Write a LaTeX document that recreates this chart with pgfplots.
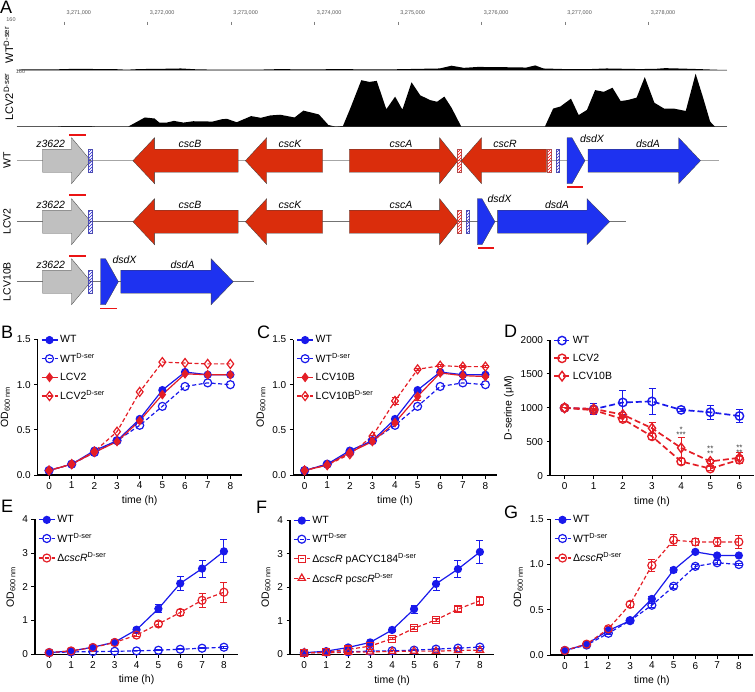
\documentclass[border=0pt]{standalone}
\usepackage{fontspec}
\setmainfont{Liberation Sans}
\usepackage{pgfplots}
\pgfplotsset{compat=1.18}
\usetikzlibrary{patterns}
\definecolor{pblue}{RGB}{25,25,235}
\definecolor{pred}{RGB}{228,30,38}
\definecolor{genered}{RGB}{218,45,12}
\definecolor{geneblue}{RGB}{30,50,240}
\definecolor{genegray}{RGB}{192,192,192}
\definecolor{ulred}{RGB}{235,20,20}
\pgfplotsset{
  gp/.style={
    scale only axis, anchor=south west,
    height=135.5pt,
    axis x line*=bottom, axis y line*=left,
    axis line style={line width=1.2pt, black},
    tick align=outside, major tick length=3.5pt,
    tick style={black, line width=1pt},
    xtick={0,...,8},
    xlabel={time (h)}, ylabel={OD\textsubscript{600 nm}},
    tick label style={font=\fontsize{10}{12}\selectfont},
    label style={font=\fontsize{10.5}{12}\selectfont},
    /pgf/number format/assume math mode=true,
    yticklabel style={/pgf/number format/.cd, fixed, fixed zerofill, precision=1, 1000 sep={}},
    clip=false,
    legend cell align=left,
    legend style={at={(0,1)}, anchor=north west, draw=none, fill=none,
      font=\fontsize{10.5}{12}\selectfont, row sep=5pt, inner sep=0pt, xshift=3pt, yshift=6pt},
    legend image code/.code={\draw[mark repeat=2,mark phase=2,##1] plot coordinates {(0pt,0pt)(8pt,0pt)(16pt,0pt)};},
  },
  sWT/.style={pblue, line width=1.2pt, solid, mark=*, mark size=3.5pt, mark options={solid, fill=pblue}},
  sWTD/.style={pblue, line width=1.2pt, dash pattern=on 4pt off 2.5pt, mark=o, mark size=4pt, mark options={solid}},
  sRfd/.style={pred, line width=1.2pt, solid, mark=diamond*, mark size=4pt, mark options={solid, fill=pred}},
  sRod/.style={pred, line width=1.2pt, dash pattern=on 4pt off 2.5pt, mark=diamond, mark size=4.5pt, mark options={solid}},
  sRoc/.style={pred, line width=1.2pt, dash pattern=on 4pt off 2.5pt, mark=o, mark size=4pt, mark options={solid}},
  sRos/.style={pred, line width=1.2pt, dash pattern=on 4pt off 2.5pt, mark=square, mark size=3.5pt, mark options={solid}},
  sRot/.style={pred, line width=1.2pt, dash pattern=on 4pt off 2.5pt, mark=triangle, mark size=4.2pt, mark options={solid}},
  eb/.style={error bars/y dir=both, error bars/y explicit,
    error bars/error bar style={solid, line width=1pt},
    error bars/error mark options={rotate=90, mark size=3.5pt, line width=1pt, solid}},
  gred/.style={fill=genered, draw=gray!50!black, line width=0.3pt},
  gblue/.style={fill=geneblue, draw=gray!50!black, line width=0.3pt},
  ggray/.style={fill=genegray, draw=gray!50!black, line width=0.3pt},
  hblue/.style={pattern=north east lines, pattern color=blue!70!gray, draw=gray!60!blue, line width=0.3pt},
  hred/.style={pattern=north east lines, pattern color=red, draw=gray!60!red, line width=0.3pt},
  ul/.style={draw=ulred, line width=1.6pt},
}
\begin{document}
\begin{tikzpicture}
\useasboundingbox (0pt,0pt) rectangle (755pt,-691pt);

% ---------------- Panel A ----------------
\node[anchor=base west, font=\fontsize{18}{20}\selectfont, inner sep=0pt] at (0pt,-13.5pt) {A};
% ruler
\begin{axis}[at={(16.9pt,-25pt)}, anchor=north west, scale only axis, width=710.1pt, height=1pt,
  xmin=0.436, xmax=8.943, ymin=0, ymax=1, axis x line*=top, axis line style={draw=none}, hide y axis,
  tick align=outside, major tick length=3.5pt, tick style={gray, line width=0.5pt},
  xtick={1,...,8},
  xticklabels={{3,271,000},{3,272,000},{3,273,000},{3,274,000},{3,275,000},{3,276,000},{3,277,000},{3,278,000}},
  xticklabel style={font=\fontsize{5.5}{6}\selectfont, text=gray!70!black, anchor=south west, xshift=-1pt, yshift=3pt}]
\addplot[draw=none] coordinates {(1,0)(8,0)};
\end{axis}
% WT D-ser coverage
\begin{axis}[at={(16.9pt,-70pt)}, anchor=south west, scale only axis, width=710.1pt, height=49pt,
  xmin=0.436, xmax=8.943, ymin=0, ymax=160, axis x line*=bottom, hide y axis, xtick=\empty,
  axis line style={gray!60, line width=0.8pt}]
\addplot[fill=black, draw=none] coordinates {(0.436,0)(0.5,2)(0.9,2)(1.0,3)(1.2,4)(1.4,3)(1.6,3)(1.75,1)(1.9,3)(2.2,4)(2.4,5)(2.6,2)(2.9,1)(3.3,1)(3.6,3)(3.8,2)(4.0,2)(4.3,3)(4.6,2)(4.9,2)(5.1,3)(5.3,4)(5.5,5)(5.644,14)(5.79,7)(5.96,10)(6.31,9)(6.54,8)(6.645,15)(6.744,5)(7.0,3)(7.3,3)(7.5,5)(7.7,4)(7.9,3)(8.1,4)(8.2,6)(8.35,5)(8.6,3)(8.8,1)(8.943,0)} -- cycle;
\end{axis}
% LCV2 D-ser coverage
\begin{axis}[at={(16.9pt,-126.7pt)}, anchor=south west, scale only axis, width=710.1pt, height=54.7pt,
  xmin=0.436, xmax=8.943, ymin=0, ymax=160, axis x line*=bottom, hide y axis, xtick=\empty,
  axis line style={gray!80!black, line width=0.8pt}]
\addplot[fill=black, draw=none] coordinates {(0.436,0)(0.9,0)(1.0,2)(1.3,2)(1.4,0)(1.767,0)(1.969,27)(2.085,24)(2.143,12)(2.230,12)(2.317,17)(2.432,12)(2.548,16)(2.780,15)(2.895,22)(2.953,23)(3.069,13)(3.242,31)(3.358,26)(3.474,33)(3.590,35)(3.763,27)(3.868,47)(4.053,36)(4.168,5)(4.255,0)(4.342,2)(4.429,53)(4.562,136)(4.660,131)(4.747,134)(4.862,51)(4.967,88)(5.054,50)(5.164,130)(5.268,92)(5.383,78)(5.470,73)(5.557,88)(5.644,55)(5.760,0)(6.761,0)(6.860,53)(6.947,59)(7.074,82)(7.166,34)(7.265,49)(7.363,107)(7.467,102)(7.571,114)(7.669,75)(7.755,78)(7.860,85)(7.958,145)(8.073,70)(8.189,53)(8.305,53)(8.449,46)(8.567,155)(8.654,87)(8.741,15)(8.799,0)(8.943,0)} -- cycle;
\end{axis}
\node[font=\fontsize{5.5}{6}\selectfont, text=gray!70!black] at (11pt,-20pt) {160};
\node[font=\fontsize{5.5}{6}\selectfont, text=gray!70!black] at (20.5pt,-72pt) {160};
\node[rotate=90, font=\fontsize{11}{12}\selectfont] at (8.5pt,-45pt) {WT\textsuperscript{D-ser}};
\node[rotate=90, font=\fontsize{11}{12}\selectfont] at (8.5pt,-97pt) {LCV2\textsuperscript{D-ser}};
\node[rotate=90, font=\fontsize{10.5}{12}\selectfont] at (7pt,-160.7pt) {WT};
\node[rotate=90, font=\fontsize{10.5}{12}\selectfont] at (7pt,-221.7pt) {LCV2};
\node[rotate=90, font=\fontsize{10.5}{12}\selectfont] at (7pt,-281.7pt) {LCV10B};

% gene maps
\begin{axis}[at={(0pt,-315pt)}, anchor=south west, scale only axis, width=755pt, height=185pt,
  xmin=0, xmax=755, ymin=130, ymax=315, y dir=reverse, hide axis, clip=false]
\addplot[gray!70, line width=0.8pt] coordinates {(16.9,160.7)(718.8,160.7)};
\addplot[gray!90!black, line width=0.8pt] coordinates {(16.9,221.7)(625.6,221.7)};
\addplot[gray!90!black, line width=0.8pt] coordinates {(16.9,281.7)(253.6,281.7)};
% WT row
\addplot[ggray] coordinates {(42.5,149.2)(71.5,149.2)(71.5,137.7)(90.8,160.7)(71.5,183.7)(71.5,172.2)(42.5,172.2)} -- cycle;
\addplot[hblue] coordinates {(88.4,149.2)(91.8,149.2)(91.8,172.2)(88.4,172.2)} -- cycle;
\addplot[gred] coordinates {(238.2,149.2)(154.6,149.2)(154.6,137.7)(132.9,160.7)(154.6,183.7)(154.6,172.2)(238.2,172.2)} -- cycle;
\addplot[gred] coordinates {(322.7,149.2)(266.7,149.2)(266.7,137.7)(245.4,160.7)(266.7,183.7)(266.7,172.2)(322.7,172.2)} -- cycle;
\addplot[gred] coordinates {(349.3,149.2)(439.6,149.2)(439.6,137.7)(458,160.7)(439.6,183.7)(439.6,172.2)(349.3,172.2)} -- cycle;
\addplot[hred] coordinates {(457,149.2)(461.3,149.2)(461.3,172.2)(457,172.2)} -- cycle;
\addplot[gred] coordinates {(546.5,149.2)(481.5,149.2)(481.5,137.7)(461.3,160.7)(481.5,183.7)(481.5,172.2)(546.5,172.2)} -- cycle;
\addplot[hred] coordinates {(547,149.2)(551,149.2)(551,172.2)(547,172.2)} -- cycle;
\addplot[hblue] coordinates {(556,149.2)(559.5,149.2)(559.5,172.2)(556,172.2)} -- cycle;
\addplot[gblue] coordinates {(567,137.7)(572,137.7)(585,160.7)(572,183.7)(567,183.7)} -- cycle;
\addplot[gblue] coordinates {(588,149.2)(678.7,149.2)(678.7,137.7)(700.5,160.7)(678.7,183.7)(678.7,172.2)(588,172.2)} -- cycle;
\addplot[ul] coordinates {(69,135)(86,135)};
\addplot[ul] coordinates {(567,187)(583,187)};
% LCV2 row
\addplot[ggray] coordinates {(42.5,210.2)(71.5,210.2)(71.5,198.7)(90.8,221.7)(71.5,244.7)(71.5,233.2)(42.5,233.2)} -- cycle;
\addplot[hblue] coordinates {(88.4,210.2)(91.8,210.2)(91.8,233.2)(88.4,233.2)} -- cycle;
\addplot[gred] coordinates {(238.2,210.2)(154.6,210.2)(154.6,198.7)(132.9,221.7)(154.6,244.7)(154.6,233.2)(238.2,233.2)} -- cycle;
\addplot[gred] coordinates {(322.7,210.2)(266.7,210.2)(266.7,198.7)(245.4,221.7)(266.7,244.7)(266.7,233.2)(322.7,233.2)} -- cycle;
\addplot[gred] coordinates {(349.3,210.2)(439.6,210.2)(439.6,198.7)(458,221.7)(439.6,244.7)(439.6,233.2)(349.3,233.2)} -- cycle;
\addplot[hred] coordinates {(457,210.2)(461.3,210.2)(461.3,233.2)(457,233.2)} -- cycle;
\addplot[hblue] coordinates {(466.2,210.2)(469.6,210.2)(469.6,233.2)(466.2,233.2)} -- cycle;
\addplot[gblue] coordinates {(477.3,198.7)(482,198.7)(495,221.7)(482,244.7)(477.3,244.7)} -- cycle;
\addplot[gblue] coordinates {(497.6,210.2)(587,210.2)(587,198.7)(609.7,221.7)(587,244.7)(587,233.2)(497.6,233.2)} -- cycle;
\addplot[ul] coordinates {(69,195)(86,195)};
\addplot[ul] coordinates {(478.3,248)(493.7,248)};
% LCV10B row
\addplot[ggray] coordinates {(42.5,270.2)(71.5,270.2)(71.5,258.7)(90.8,281.7)(71.5,304.7)(71.5,293.2)(42.5,293.2)} -- cycle;
\addplot[hblue] coordinates {(88.4,270.2)(91.8,270.2)(91.8,293.2)(88.4,293.2)} -- cycle;
\addplot[gblue] coordinates {(100.5,258.7)(105.5,258.7)(118.4,281.7)(105.5,304.7)(100.5,304.7)} -- cycle;
\addplot[gblue] coordinates {(120.8,270.2)(211.1,270.2)(211.1,258.7)(233.3,281.7)(211.1,304.7)(211.1,293.2)(120.8,293.2)} -- cycle;
\addplot[ul] coordinates {(69,256)(86,256)};
\addplot[ul] coordinates {(100,308.5)(117,308.5)};
% gene labels
\begin{scope}[every node/.style={font=\fontsize{10.5}{12}\selectfont\itshape, inner sep=0pt}]
\node at (50.7,144) {z3622};
\node at (190,144) {cscB};
\node at (290,144) {cscK};
\node at (401,144) {cscA};
\node at (505,143.5) {cscR};
\node at (592,139) {dsdX};
\node at (648,144) {dsdA};
\node at (50.7,205) {z3622};
\node at (190,205) {cscB};
\node at (290,205) {cscK};
\node at (401,205) {cscA};
\node at (499.5,199) {dsdX};
\node at (557,205) {dsdA};
\node at (50.7,265) {z3622};
\node at (124.5,260) {dsdX};
\node at (182.6,265) {dsdA};
\end{scope}
\end{axis}

% ---------------- Panel labels ----------------
\begin{scope}[every node/.style={anchor=base west, font=\fontsize{18}{20}\selectfont, inner sep=0pt}]
\node at (1pt,-338pt) {B};
\node at (257pt,-338pt) {C};
\node at (504pt,-337pt) {D};
\node at (1pt,-512pt) {E};
\node at (256pt,-513pt) {F};
\node at (504pt,-518pt) {G};
\end{scope}

% ---------------- Panel B ----------------
\begin{axis}[gp, at={(37.7pt,-475pt)}, width=204pt, xmin=-0.5, xmax=8.5, ymin=0, ymax=1.5, ytick={0,0.5,1,1.5}]
\addplot[sWT] coordinates {(0,0.05)(1,0.12)(2,0.27)(3,0.38)(4,0.62)(5,0.94)(6,1.14)(7,1.11)(8,1.11)};
\addlegendentry{WT}
\addplot[sWTD] coordinates {(0,0.05)(1,0.12)(2,0.25)(3,0.38)(4,0.55)(5,0.76)(6,0.98)(7,1.02)(8,1.00)};
\addlegendentry{WT\textsuperscript{D-ser}}
\addplot[sRfd] coordinates {(0,0.05)(1,0.12)(2,0.25)(3,0.37)(4,0.60)(5,0.89)(6,1.12)(7,1.11)(8,1.11)};
\addlegendentry{LCV2}
\addplot[sRod] coordinates {(0,0.05)(1,0.12)(2,0.26)(3,0.48)(4,0.92)(5,1.25)(6,1.24)(7,1.23)(8,1.23)};
\addlegendentry{LCV2\textsuperscript{D-ser}}
\end{axis}

% ---------------- Panel C ----------------
\begin{axis}[gp, at={(293.3pt,-475pt)}, width=203.4pt, xmin=-0.5, xmax=8.5, ymin=0, ymax=1.5, ytick={0,0.5,1,1.5}]
\addplot[sWT] coordinates {(0,0.05)(1,0.12)(2,0.27)(3,0.38)(4,0.62)(5,0.94)(6,1.14)(7,1.11)(8,1.11)};
\addlegendentry{WT}
\addplot[sWTD] coordinates {(0,0.05)(1,0.12)(2,0.25)(3,0.38)(4,0.55)(5,0.76)(6,0.98)(7,1.02)(8,1.00)};
\addlegendentry{WT\textsuperscript{D-ser}}
\addplot[sRfd, eb] table[row sep=\\, header=false, x index=0, y index=1, y error index=2] {0 0.05 0\\ 1 0.11 0\\ 2 0.25 0\\ 3 0.37 0\\ 4 0.58 0.02\\ 5 0.87 0.04\\ 6 1.13 0.01\\ 7 1.10 0.01\\ 8 1.09 0.01\\};
\addlegendentry{LCV10B}
\addplot[sRod, eb] table[row sep=\\, header=false, x index=0, y index=1, y error index=2] {0 0.05 0\\ 1 0.11 0\\ 2 0.23 0\\ 3 0.43 0.01\\ 4 0.82 0.04\\ 5 1.17 0.01\\ 6 1.21 0.01\\ 7 1.20 0.01\\ 8 1.20 0.01\\};
\addlegendentry{LCV10B\textsuperscript{D-ser}}
\end{axis}

% ---------------- Panel D ----------------
\begin{axis}[gp, at={(550pt,-475.7pt)}, width=204pt, height=135.7pt, xmin=-0.5, xmax=6.5, xtick={0,...,6},
  ymin=0, ymax=2000, ytick={0,500,1000,1500,2000}, ylabel={D-serine (μM)},
  yticklabel style={/pgf/number format/precision=0},
  legend image code/.code={\draw[mark repeat=2,mark phase=2,#1] plot coordinates {(0pt,0pt)(8pt,0pt)(16pt,0pt)};}]
\addplot[pblue, line width=1.7pt, dash pattern=on 6pt off 3pt, mark=o, mark size=4.2pt, mark options={solid, line width=1.4pt}, eb]
  table[row sep=\\, header=false, x index=0, y index=1, y error index=2] {0 1000 0\\ 1 980 80\\ 2 1080 180\\ 3 1095 195\\ 4 970 25\\ 5 935 100\\ 6 880 100\\};
\addlegendentry{WT}
\addplot[pred, line width=1.7pt, dash pattern=on 6pt off 3pt, mark=o, mark size=4.2pt, mark options={solid, line width=1.4pt}, eb]
  table[row sep=\\, header=false, x index=0, y index=1, y error index=2] {0 1000 0\\ 1 965 30\\ 2 835 30\\ 3 580 40\\ 4 210 40\\ 5 105 30\\ 6 235 60\\};
\addlegendentry{LCV2}
\addplot[pred, line width=1.7pt, dash pattern=on 6pt off 3pt, mark=diamond, mark size=4.8pt, mark options={solid, line width=1.4pt}, eb]
  table[row sep=\\, header=false, x index=0, y index=1, y error index=2] {0 1000 0\\ 1 985 30\\ 2 900 30\\ 3 700 80\\ 4 410 150\\ 5 210 30\\ 6 265 80\\};
\addlegendentry{LCV10B}
\begin{scope}[every node/.style={font=\fontsize{8}{9}\selectfont, inner sep=0pt, text=black!75}]
\node at (4,645) {\ooalign{\hfil\raisebox{5pt}{*}\hfil\cr ***\cr}};
\node at (5,366) {\ooalign{\hfil\raisebox{5pt}{**}\hfil\cr **\cr}};
\node at (6,380) {\ooalign{\hfil\raisebox{5pt}{**}\hfil\cr **\cr}};
\end{scope}
\end{axis}

% ---------------- Panel E ----------------
\begin{axis}[gp, at={(35pt,-654.3pt)}, width=203.1pt, height=135pt, xmin=-0.65, xmax=8.65,
  ymin=0, ymax=4, ytick={0,1,2,3,4}, yticklabel style={/pgf/number format/precision=0}]
\addplot[sWT, eb] table[row sep=\\, header=false, x index=0, y index=1, y error index=2] {0 0.05 0\\ 1 0.10 0\\ 2 0.21 0.02\\ 3 0.36 0.03\\ 4 0.73 0.06\\ 5 1.35 0.12\\ 6 2.10 0.20\\ 7 2.54 0.25\\ 8 3.05 0.34\\};
\addlegendentry{WT}
\addplot[sWTD, eb] table[row sep=\\, header=false, x index=0, y index=1, y error index=2] {0 0.05 0\\ 1 0.07 0\\ 2 0.08 0\\ 3 0.09 0\\ 4 0.10 0\\ 5 0.12 0.01\\ 6 0.15 0.02\\ 7 0.18 0.02\\ 8 0.21 0.03\\};
\addlegendentry{WT\textsuperscript{D-ser}}
\addplot[sRoc, eb] table[row sep=\\, header=false, x index=0, y index=1, y error index=2] {0 0.05 0\\ 1 0.10 0\\ 2 0.20 0.01\\ 3 0.35 0.02\\ 4 0.57 0.04\\ 5 0.90 0.07\\ 6 1.24 0.10\\ 7 1.60 0.20\\ 8 1.84 0.30\\};
\addlegendentry{Δ\textit{cscR}\textsuperscript{D-ser}}
\end{axis}

% ---------------- Panel F ----------------
\begin{axis}[gp, at={(290pt,-654.5pt)}, width=204.2pt, height=134.5pt, xmin=-0.65, xmax=8.65,
  ymin=0, ymax=4, ytick={0,1,2,3,4}, yticklabel style={/pgf/number format/precision=0}]
\addplot[sWT, eb] table[row sep=\\, header=false, x index=0, y index=1, y error index=2] {0 0.05 0\\ 1 0.10 0\\ 2 0.21 0.02\\ 3 0.36 0.03\\ 4 0.73 0.06\\ 5 1.35 0.12\\ 6 2.10 0.20\\ 7 2.54 0.25\\ 8 3.05 0.34\\};
\addlegendentry{WT}
\addplot[sWTD, eb] table[row sep=\\, header=false, x index=0, y index=1, y error index=2] {0 0.05 0\\ 1 0.07 0\\ 2 0.08 0\\ 3 0.10 0\\ 4 0.11 0\\ 5 0.13 0.01\\ 6 0.16 0.02\\ 7 0.19 0.02\\ 8 0.22 0.03\\};
\addlegendentry{WT\textsuperscript{D-ser}}
\addplot[sRos, eb] table[row sep=\\, header=false, x index=0, y index=1, y error index=2] {0 0.05 0\\ 1 0.07 0\\ 2 0.15 0.01\\ 3 0.25 0.02\\ 4 0.47 0.03\\ 5 0.78 0.04\\ 6 1.03 0.05\\ 7 1.35 0.08\\ 8 1.60 0.14\\};
\addlegendentry{Δ\textit{cscR} pACYC184\textsuperscript{D-ser}}
\addplot[sRot] coordinates {(0,0.05)(1,0.05)(2,0.07)(3,0.08)(4,0.09)(5,0.10)(6,0.10)(7,0.12)(8,0.13)};
\addlegendentry{Δ\textit{cscR} p\textit{cscR}\textsuperscript{D-ser}}
\end{axis}

% ---------------- Panel G ----------------
\begin{axis}[gp, at={(550.7pt,-655pt)}, width=202.3pt, height=135.7pt, xmin=-0.65, xmax=8.65,
  ymin=0, ymax=1.5, ytick={0,0.5,1,1.5}]
\addplot[sWT, eb] table[row sep=\\, header=false, x index=0, y index=1, y error index=2] {0 0.05 0\\ 1 0.12 0\\ 2 0.27 0.01\\ 3 0.38 0.01\\ 4 0.62 0.03\\ 5 0.94 0.03\\ 6 1.14 0.01\\ 7 1.10 0.01\\ 8 1.10 0.01\\};
\addlegendentry{WT}
\addplot[sWTD, eb] table[row sep=\\, header=false, x index=0, y index=1, y error index=2] {0 0.05 0\\ 1 0.11 0\\ 2 0.24 0.01\\ 3 0.38 0.01\\ 4 0.55 0.02\\ 5 0.76 0.02\\ 6 0.98 0.02\\ 7 1.02 0.02\\ 8 1.00 0.01\\};
\addlegendentry{WT\textsuperscript{D-ser}}
\addplot[sRoc, eb] table[row sep=\\, header=false, x index=0, y index=1, y error index=2] {0 0.05 0\\ 1 0.12 0\\ 2 0.29 0.02\\ 3 0.56 0.03\\ 4 0.99 0.07\\ 5 1.27 0.06\\ 6 1.25 0.04\\ 7 1.25 0.05\\ 8 1.25 0.07\\};
\addlegendentry{Δ\textit{cscR}\textsuperscript{D-ser}}
\end{axis}
\end{tikzpicture}
\end{document}
